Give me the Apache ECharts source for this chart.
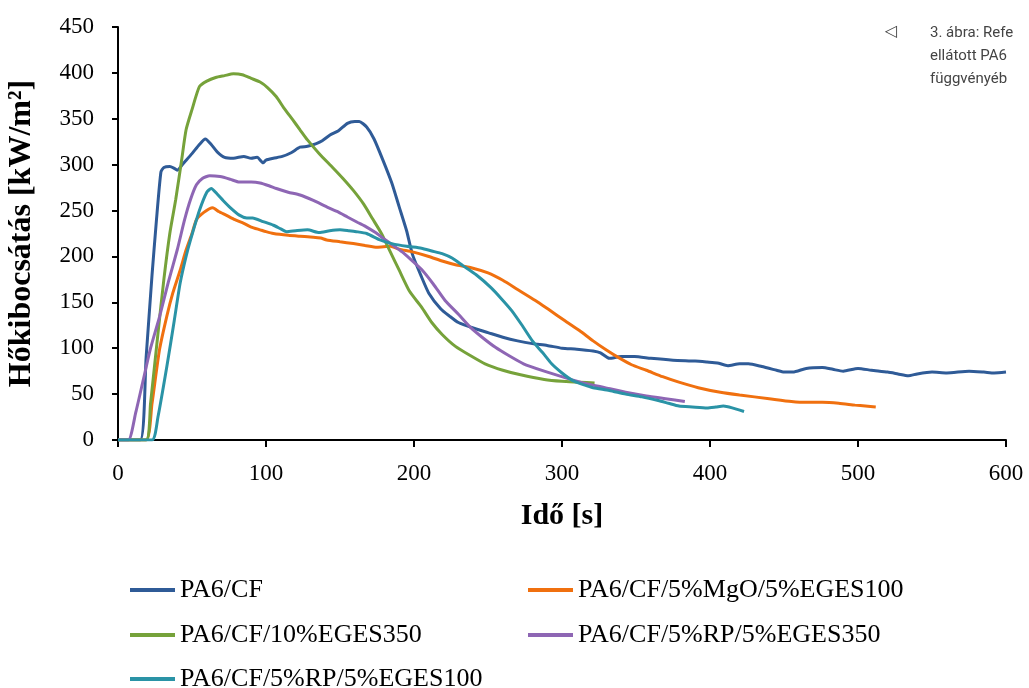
<!DOCTYPE html>
<html>
<head>
<meta charset="utf-8">
<script src="https://cdn.jsdelivr.net/npm/echarts@6/dist/echarts.min.js"></script>
<style>
  html, body { margin: 0; padding: 0; background: #fff; }
  #chart { width: 1029px; height: 688px; }
</style>
</head>
<body>
<div id="chart"></div>
<script>
// series names (legend)
const names = [
  'PA6/CF',
  'PA6/CF/5%MgO/5%EGES100',
  'PA6/CF/10%EGES350',
  'PA6/CF/5%RP/5%EGES350',
  'PA6/CF/5%RP/5%EGES100'
]

// [time s, heat release kW/m2]
const pa6cf = [[0, 0], [15, 0], [19, 90], [23, 180], [26, 240], [29, 292], [31, 297], [35, 298], [38, 296], [40, 294], [45, 303], [50, 312], [55, 322], [59, 328], [63, 322], [67, 314], [72, 308], [78, 307], [85, 309], [90, 307], [94, 308], [98, 302], [100, 305], [105, 307], [111, 309], [117, 313], [123, 319], [128, 320], [134, 323], [138, 326], [143, 332], [149, 337], [155, 345], [160, 347], [163, 347], [168, 341], [173, 328], [179, 305], [185, 280], [190, 254], [195, 228], [199, 202], [205, 178], [210, 160], [218, 143], [224, 135], [230, 128], [240, 122], [250, 117], [260, 112], [270, 108], [280, 105], [290, 103], [300, 100], [310, 99], [321, 97], [326, 95], [332, 89], [340, 91], [349, 91], [360, 89], [375, 87], [390, 86], [398, 85], [405, 84], [412, 81], [420, 83], [426, 83], [435, 80], [445, 76], [450, 74], [456, 74], [465, 78], [476, 79], [483, 77], [490, 75], [500, 78], [509, 76], [520, 74], [527, 72], [534, 70], [540, 72], [550, 74], [560, 73], [575, 75], [585, 74], [592, 73], [600, 74]]
const mgo = [[0, 0], [19, 0], [23, 40], [28, 98], [33, 135], [37, 160], [42, 185], [46, 207], [50, 225], [53, 240], [58, 248], [64, 253], [68, 249], [73, 245], [79, 240], [85, 236], [90, 232], [96, 229], [100, 227], [105, 225], [115, 223], [123, 222], [132, 221], [137, 220], [141, 218], [150, 216], [159, 214], [167, 212], [175, 210], [184, 211], [190, 208], [199, 205], [210, 200], [219, 195], [228, 191], [238, 188], [250, 182], [260, 174], [270, 164], [282, 152], [292, 141], [302, 130], [312, 119], [321, 108], [330, 98], [338, 90], [347, 82], [357, 76], [368, 69], [379, 63], [392, 57], [407, 52], [420, 49], [440, 45], [455, 42], [465, 41], [476, 41], [487, 40], [498, 38], [505, 37], [512, 36]]
const eges350 = [[0, 0], [19, 0], [22, 40], [27, 116], [31, 175], [35, 225], [39, 262], [43, 305], [46, 338], [50, 360], [55, 385], [60, 391], [66, 395], [72, 397], [78, 399], [84, 398], [90, 394], [96, 390], [101, 384], [107, 374], [112, 362], [118, 349], [123, 338], [128, 327], [136, 312], [145, 297], [152, 285], [159, 272], [166, 257], [172, 241], [178, 225], [184, 205], [190, 185], [197, 162], [205, 145], [212, 128], [219, 115], [228, 102], [238, 92], [248, 83], [260, 76], [272, 71], [288, 66], [300, 64], [312, 63], [322, 62]]
const rp350 = [[0, 0], [7, 0], [12, 30], [17, 65], [22, 100], [28, 134], [34, 172], [40, 207], [45, 240], [49, 262], [53, 278], [57, 285], [62, 288], [69, 287], [76, 284], [82, 281], [90, 281], [96, 280], [102, 277], [107, 274], [115, 270], [123, 267], [132, 261], [141, 254], [148, 249], [155, 243], [162, 237], [168, 232], [174, 226], [179, 220], [185, 213], [192, 205], [197, 198], [205, 186], [213, 170], [221, 152], [230, 137], [238, 123], [246, 112], [255, 101], [264, 92], [274, 83], [288, 75], [302, 68], [315, 62], [329, 57], [343, 52], [357, 48], [370, 45], [383, 42]]
const rp100 = [[0, 0], [23, 0], [27, 25], [33, 80], [38, 130], [42, 171], [46, 200], [49, 218], [55, 250], [60, 270], [63, 274], [67, 268], [71, 261], [76, 253], [82, 245], [87, 242], [91, 242], [98, 238], [105, 234], [110, 230], [114, 227], [120, 228], [128, 229], [136, 226], [143, 228], [150, 229], [156, 228], [161, 227], [168, 225], [177, 218], [185, 214], [195, 211], [205, 209], [212, 206], [219, 203], [226, 198], [233, 190], [242, 180], [252, 166], [259, 154], [266, 141], [273, 125], [280, 108], [287, 95], [293, 83], [300, 73], [307, 65], [315, 60], [321, 57], [332, 54], [343, 50], [354, 47], [365, 43], [372, 40], [379, 37], [388, 36], [398, 35], [404, 36], [409, 37], [415, 35], [423, 31]]

const seriesData = [pa6cf, mgo, eges350, rp350, rp100]
const colors = ['#2f5b97', '#f0700f', '#76a23a', '#8e66b4', '#2a93a6']

// legend placement: [left, top]
const legendPos = [[125, 572], [523, 572], [125, 617], [523, 617], [125, 661]]

const serif = '"Liberation Serif", "DejaVu Serif", serif'

const myChart = echarts.init(document.getElementById('chart'))

const option = {
  animation: false,
  backgroundColor: '#fff',
  grid: { left: 118, right: 23, top: 27, bottom: 248, outerBoundsMode: 'none' },
  xAxis: {
    type: 'value',
    min: 0,
    max: 600,
    interval: 100,
    name: 'Idő [s]',
    nameLocation: 'middle',
    nameGap: 61,
    nameTextStyle: { fontFamily: serif, fontSize: 30, fontWeight: 'bold', color: '#000' },
    axisLine: { lineStyle: { color: '#000', width: 2 } },
    axisTick: { length: 7, lineStyle: { color: '#000', width: 2 } },
    axisLabel: { fontFamily: serif, fontSize: 23, color: '#000', margin: 22 },
    splitLine: { show: false }
  },
  yAxis: {
    type: 'value',
    min: 0,
    max: 450,
    interval: 50,
    name: 'Hőkibocsátás [kW/m²]',
    nameLocation: 'middle',
    nameGap: 80,
    nameTextStyle: { fontFamily: serif, fontSize: 32, fontWeight: 'bold', color: '#000' },
    axisLine: { show: true, lineStyle: { color: '#000', width: 2 } },
    axisTick: { show: true, length: 6, lineStyle: { color: '#000', width: 2 } },
    axisLabel: { fontFamily: serif, fontSize: 23, color: '#000', margin: 24 },
    splitLine: { show: false }
  },
  legend: names.map((n, i) => ({
    data: [n],
    left: legendPos[i][0],
    top: legendPos[i][1],
    icon: 'rect',
    itemWidth: 45,
    itemHeight: 4,
    itemGap: 0,
    textStyle: { fontFamily: serif, fontSize: 26, color: '#000' }
  })),
  series: names.map((n, i) => ({
    name: n,
    type: 'line',
    data: seriesData[i],
    showSymbol: false,
    smooth: 0.2,
    color: colors[i],
    lineStyle: { width: 3, color: colors[i] }
  })),
  graphic: [
    { type: 'text', left: 885, top: 24, style: { text: '◁', font: '16px "DejaVu Sans"', fill: '#444' } },
    { type: 'text', left: 930, top: 26, style: { text: '3. ábra: Refe', font: '15px Roboto', fill: '#444' } },
    { type: 'text', left: 930, top: 49, style: { text: 'ellátott PA6', font: '15px Roboto', fill: '#444' } },
    { type: 'text', left: 930, top: 72, style: { text: 'függvényéb', font: '15px Roboto', fill: '#444' } }
  ]
}

myChart.setOption(option)
</script>
</body>
</html>
